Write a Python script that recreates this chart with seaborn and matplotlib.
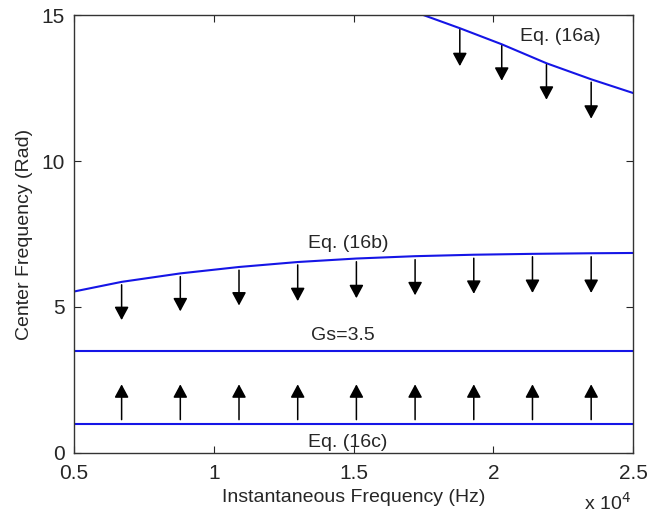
import numpy as np
import pandas as pd
import matplotlib
matplotlib.use("Agg")
import matplotlib.pyplot as plt
import seaborn as sns

# Datos (frecuencia en unidades de 1e4 Hz)
x_16a = [1.75, 1.88, 2.03, 2.19, 2.35, 2.50]
y_16a = [15.0, 14.55, 14.0, 13.35, 12.8, 12.33]

x_16b = [0.50, 0.67, 0.88, 1.09, 1.30, 1.51, 1.72, 1.93, 2.14, 2.35, 2.50]
y_16b = [5.53, 5.86, 6.15, 6.37, 6.54, 6.66, 6.74, 6.79, 6.82, 6.84, 6.85]

x_lim = [0.5, 2.5]
gs_level = 3.5
c_level = 1.0

# Flechas (posición x, inicio y, fin y)
arrows_a_x = [1.88, 2.03, 2.19, 2.35]
arrows_a_y0 = [14.5, 13.95, 13.3, 12.7]
arrows_a_y1 = [13.25, 12.75, 12.1, 11.45]

arrows_b_x = [0.67, 0.88, 1.09, 1.30, 1.51, 1.72, 1.93, 2.14, 2.35]
arrows_b_y0 = [5.76, 6.04, 6.26, 6.44, 6.55, 6.62, 6.67, 6.72, 6.72]
arrows_b_y1 = [4.55, 4.85, 5.05, 5.2, 5.3, 5.4, 5.45, 5.48, 5.48]

arrows_c_x = arrows_b_x
arrows_c_y0 = [1.14] * 9
arrows_c_y1 = [2.35] * 9

sns.set_style("ticks")
plt.rcParams['font.family'] = ['Liberation Sans', 'DejaVu Sans']

df_a = pd.DataFrame({"x": x_16a, "y": y_16a})
df_b = pd.DataFrame({"x": x_16b, "y": y_16b})
df_gs = pd.DataFrame({"x": x_lim, "y": [gs_level, gs_level]})
df_c = pd.DataFrame({"x": x_lim, "y": [c_level, c_level]})

fig = plt.figure(figsize=(6.5, 5.2), dpi=100)
ax = fig.add_axes([0.114, 0.129, 0.860, 0.842])

for d in [df_a, df_b, df_gs, df_c]:
    sns.lineplot(data=d, x="x", y="y", ax=ax, color="#1515e6", lw=1.5)

def draw_arrows(xs, y0s, y1s):
    for xx, a, b in zip(xs, y0s, y1s):
        ax.annotate("", xy=(xx, b), xytext=(xx, a),
                    arrowprops=dict(arrowstyle="-|>,head_length=0.8,head_width=0.43",
                                    color="black", lw=1.1,
                                    mutation_scale=10, shrinkA=0, shrinkB=0))

draw_arrows(arrows_a_x, arrows_a_y0, arrows_a_y1)
draw_arrows(arrows_b_x, arrows_b_y0, arrows_b_y1)
draw_arrows(arrows_c_x, arrows_c_y0, arrows_c_y1)

ax.text(2.24, 14.25, "Eq. (16a)", fontsize=14, ha="center", va="center")
ax.text(1.48, 7.19, "Eq. (16b)", fontsize=14, ha="center", va="center")
ax.text(1.46, 4.02, "Gs=3.5", fontsize=14, ha="center", va="center")
ax.text(1.48, 0.36, "Eq. (16c)", fontsize=14, ha="center", va="center")

ax.set_xlim(0.5, 2.5)
ax.set_ylim(0, 15)
ax.set_xticks([0.5, 1, 1.5, 2, 2.5])
ax.set_xticklabels(["0.5", "1", "1.5", "2", "2.5"])
ax.set_yticks([0, 5, 10, 15])
ax.tick_params(direction="in", top=True, right=True, labelsize=15, length=5)
ax.tick_params(axis="x", pad=8)
ax.tick_params(axis="y", pad=7)
for s in ax.spines.values():
    s.set_linewidth(1.0)
    s.set_color("#333333")

ax.set_xlabel("Instantaneous Frequency (Hz)", fontsize=14, labelpad=4)
ax.set_ylabel("Center Frequency (Rad)", fontsize=14, labelpad=6)
fig.text(0.935, 0.012, r"x 10$^4$", fontsize=14, ha="center", va="bottom")

plt.savefig("out.png", dpi=100)
plt.close()
